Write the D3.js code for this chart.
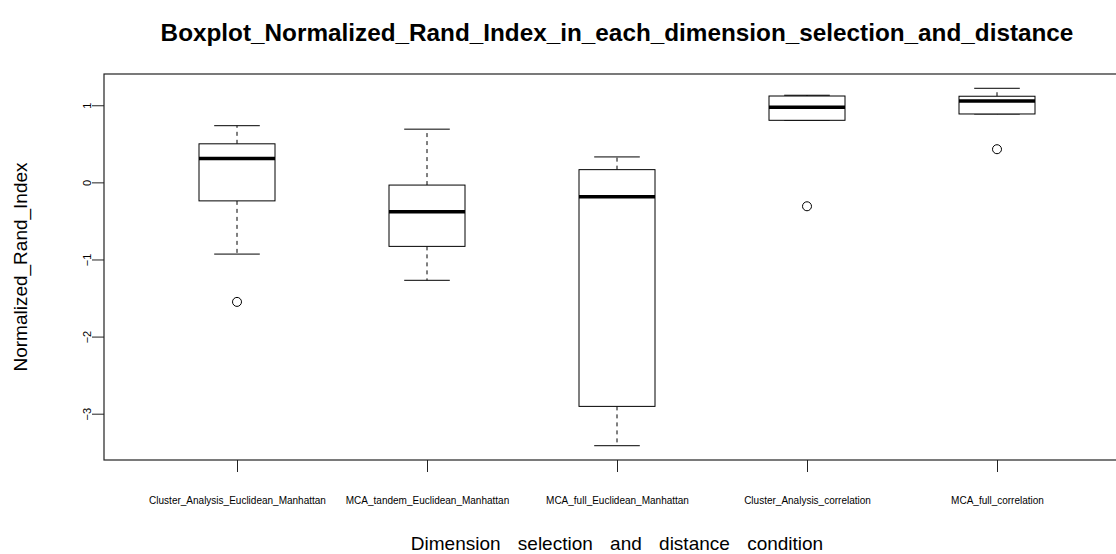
<!DOCTYPE html>
<html>
<head>
	<meta charset="utf-8">
	<style>
		body { margin: 0; background: #fff; }
		text { font-family: "Liberation Sans", Arial, Helvetica, sans-serif; }
	</style>
</head>
<body>
	<script src="https://d3js.org/d3.v7.min.js"></script>

	<script>
		const categories = [
			'Cluster_Analysis_Euclidean_Manhattan',
			'MCA_tandem_Euclidean_Manhattan',
			'MCA_full_Euclidean_Manhattan',
			'Cluster_Analysis_correlation',
			'MCA_full_correlation'
		];

		// five-number summaries
		const lowerWhisker = [-0.93, -1.27, -3.415, 0.805, 0.887];
		const q1           = [-0.24, -0.83, -2.905, 0.805, 0.887];
		const median       = [ 0.31, -0.38, -0.186, 0.974, 1.056];
		const q3           = [ 0.50, -0.035, 0.165, 1.12, 1.117];
		const upperWhisker = [ 0.735, 0.69,  0.33,  1.13, 1.22];
		const outliers     = [[-1.55], [], [], [-0.31], [0.43]];

		const yTicks = [-3, -2, -1, 0, 1];

		const W = 1116, H = 554;
		const plot = { left: 104, top: 74, bottom: 460 };

		const svg = d3.select('body')
			.append('svg')
			.attr('width', W)
			.attr('height', H);

		// R-style 4% axis extension
		const lo = d3.min(lowerWhisker.concat(outliers.flat()));
		const hi = d3.max(upperWhisker.concat(outliers.flat()));
		const pad = (hi - lo) * 0.04;

		const y = d3.scaleLinear()
			.domain([lo - pad, hi + pad])
			.range([plot.bottom, plot.top]);

		const n = categories.length;
		const xpad = n * 0.04;
		const x = d3.scaleLinear()
			.domain([0.5 - xpad, n + 0.5 + xpad])
			.range([plot.left, plot.left + 1026]);

		const data = categories.map((c, i) => ({
			name: c,
			pos: i + 1,
			lw: lowerWhisker[i],
			q1: q1[i],
			med: median[i],
			q3: q3[i],
			uw: upperWhisker[i],
			out: outliers[i]
		}));

		const boxHalf = 0.2;
		const stapleHalf = 0.12;

		const g = svg.append('g');

		data.forEach(d => {
			const cx = x(d.pos);
			const bx0 = x(d.pos - boxHalf), bx1 = x(d.pos + boxHalf);
			const sx0 = x(d.pos - stapleHalf), sx1 = x(d.pos + stapleHalf);
			const b = g.append('g');

			// whiskers
			b.append('line')
				.attr('x1', cx).attr('x2', cx)
				.attr('y1', y(d.q3)).attr('y2', y(d.uw))
				.attr('stroke', '#000').attr('stroke-width', 1)
				.attr('stroke-dasharray', '4,4');
			b.append('line')
				.attr('x1', cx).attr('x2', cx)
				.attr('y1', y(d.q1)).attr('y2', y(d.lw))
				.attr('stroke', '#000').attr('stroke-width', 1)
				.attr('stroke-dasharray', '4,4');

			// staples
			[d.uw, d.lw].forEach(v => {
				b.append('line')
					.attr('x1', sx0).attr('x2', sx1)
					.attr('y1', y(v)).attr('y2', y(v))
					.attr('stroke', '#000').attr('stroke-width', 1);
			});

			// box
			b.append('rect')
				.attr('x', bx0)
				.attr('y', y(d.q3))
				.attr('width', bx1 - bx0)
				.attr('height', y(d.q1) - y(d.q3))
				.attr('fill', '#fff')
				.attr('stroke', '#000').attr('stroke-width', 1);

			// median
			b.append('line')
				.attr('x1', bx0).attr('x2', bx1)
				.attr('y1', y(d.med)).attr('y2', y(d.med))
				.attr('stroke', '#000').attr('stroke-width', 3.5);

			// outliers
			b.selectAll('circle')
				.data(d.out)
				.join('circle')
				.attr('cx', cx)
				.attr('cy', v => y(v))
				.attr('r', 4.5)
				.attr('fill', 'none')
				.attr('stroke', '#000').attr('stroke-width', 1);
		});

		// frame
		svg.append('rect')
			.attr('x', plot.left)
			.attr('y', plot.top)
			.attr('width', 1026)
			.attr('height', plot.bottom - plot.top)
			.attr('fill', 'none')
			.attr('stroke', '#222').attr('stroke-width', 1.2);

		// y axis
		const yAxis = d3.axisLeft(y)
			.tickValues(yTicks)
			.tickSize(12)
			.tickPadding(0)
			.tickFormat(d3.format('d'));
		const ya = svg.append('g')
			.attr('transform', `translate(${plot.left},0)`)
			.call(yAxis);
		ya.select('.domain').remove();
		ya.selectAll('.tick line').attr('stroke', '#222');
		ya.selectAll('.tick text')
			.attr('x', 0).attr('y', 0)
			.attr('dy', null)
			.attr('transform', 'translate(-13,0) rotate(-90)')
			.attr('text-anchor', 'middle')
			.attr('font-size', 11)
			.attr('fill', '#000');

		// x axis
		const xAxis = d3.axisBottom(x)
			.tickValues(data.map(d => d.pos))
			.tickSize(12)
			.tickFormat((v, i) => categories[i]);
		const xa = svg.append('g')
			.attr('transform', `translate(0,${plot.bottom})`)
			.call(xAxis);
		xa.select('.domain').remove();
		xa.selectAll('.tick line').attr('stroke', '#222');
		xa.selectAll('.tick text')
			.attr('y', 44)
			.attr('dy', null)
			.attr('font-size', 10)
			.attr('fill', '#000');

		// titles
		svg.append('text')
			.attr('x', x((n + 1) / 2))
			.attr('y', 41)
			.attr('text-anchor', 'middle')
			.attr('font-weight', 'bold')
			.attr('font-size', 24.3)
			.text('Boxplot_Normalized_Rand_Index_in_each_dimension_selection_and_distance');

		svg.append('text')
			.attr('transform', `translate(27,${(plot.top + plot.bottom) / 2}) rotate(-90)`)
			.attr('text-anchor', 'middle')
			.attr('font-size', 19)
			.text('Normalized_Rand_Index');

		svg.append('text')
			.attr('x', x((n + 1) / 2))
			.attr('y', 550)
			.attr('text-anchor', 'middle')
			.attr('font-size', 19)
			.attr('word-spacing', 12)
			.text('Dimension selection and distance condition');
	</script>
</body>
</html>
